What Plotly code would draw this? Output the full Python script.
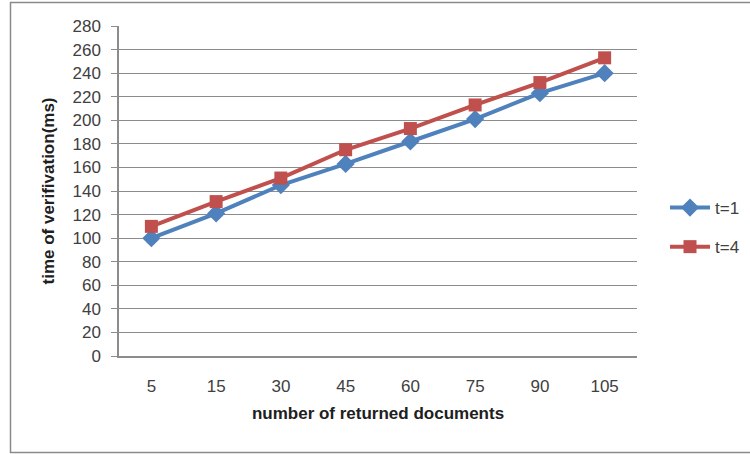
import plotly.graph_objects as go

# Number of returned documents (category axis)
documents = ["5", "15", "30", "45", "60", "75", "90", "105"]

# Verification time in ms for each threshold setting
time_t1 = [100, 121, 145, 163, 182, 201, 223, 240]
time_t4 = [110, 131, 151, 175, 193, 213, 232, 253]

y_ticks = list(range(0, 281, 20))

BLUE = "#4F81BD"
RED = "#C0504D"
GRID = "#8C8C8C"
FONT = "Liberation Sans"

fig = go.Figure()
fig.add_trace(go.Scatter(
    x=documents, y=time_t1, name="t=1", mode="lines+markers",
    legendgroup="a",
    line=dict(color=BLUE, width=4),
    marker=dict(symbol="diamond", size=14, color=BLUE),
))
fig.add_trace(go.Scatter(
    x=documents, y=time_t4, name="t=4", mode="lines+markers",
    legendgroup="b",
    line=dict(color=RED, width=4),
    marker=dict(symbol="square", size=13, color=RED),
))

# Plot-area geometry (pixels) used to place the outer frame and legend
L, R, T, B = 119, 113, 26, 98
W, H = 750, 454
pw, ph = W - L - R, H - T - B


def px_x(p):
    return (p - L) / pw


def px_y(p):
    return (H - B - p) / ph


fig.add_shape(
    type="rect", xref="paper", yref="paper",
    x0=px_x(10.5), x1=px_x(770), y0=px_y(2.5), y1=px_y(452.5),
    line=dict(color="#8A8A8A", width=1.5), fillcolor="rgba(0,0,0,0)",
    layer="below",
)

fig.update_layout(
    width=W, height=H,
    margin=dict(l=L, r=R, t=T, b=B, autoexpand=False),
    paper_bgcolor="white", plot_bgcolor="white",
    font=dict(family=FONT, size=17, color="#404040"),
    showlegend=True,
    legend=dict(
        x=px_x(665), y=px_y(190), xanchor="left", yanchor="top",
        font=dict(family=FONT, size=17, color="#404040"),
        tracegroupgap=14, itemwidth=40, bgcolor="rgba(0,0,0,0)",
    ),
    xaxis=dict(
        type="category", range=[-0.5, 7.5],
        showgrid=False, showline=True, linecolor=GRID, linewidth=1.5,
        ticks="", ticklabelstandoff=14,
        tickfont=dict(family=FONT, size=17, color="#404040"),
        title=dict(text="<b>number of returned documents</b>", standoff=12,
                   font=dict(family=FONT, size=17, color="#202020")),
        zeroline=False, fixedrange=True,
    ),
    yaxis=dict(
        range=[0, 280], tickvals=y_ticks,
        showgrid=True, gridcolor=GRID, gridwidth=1.2,
        showline=True, linecolor=GRID, linewidth=1.5,
        ticks="outside", ticklen=6, tickcolor=GRID, tickwidth=1.2,
        ticklabelstandoff=7,
        tickfont=dict(family=FONT, size=17, color="#404040"),
        title=dict(text="<b>time of verifivation(ms)</b>", standoff=14,
                   font=dict(family=FONT, size=17, color="#202020")),
        zeroline=False, fixedrange=True,
    ),
)

fig.write_html("out.html")
